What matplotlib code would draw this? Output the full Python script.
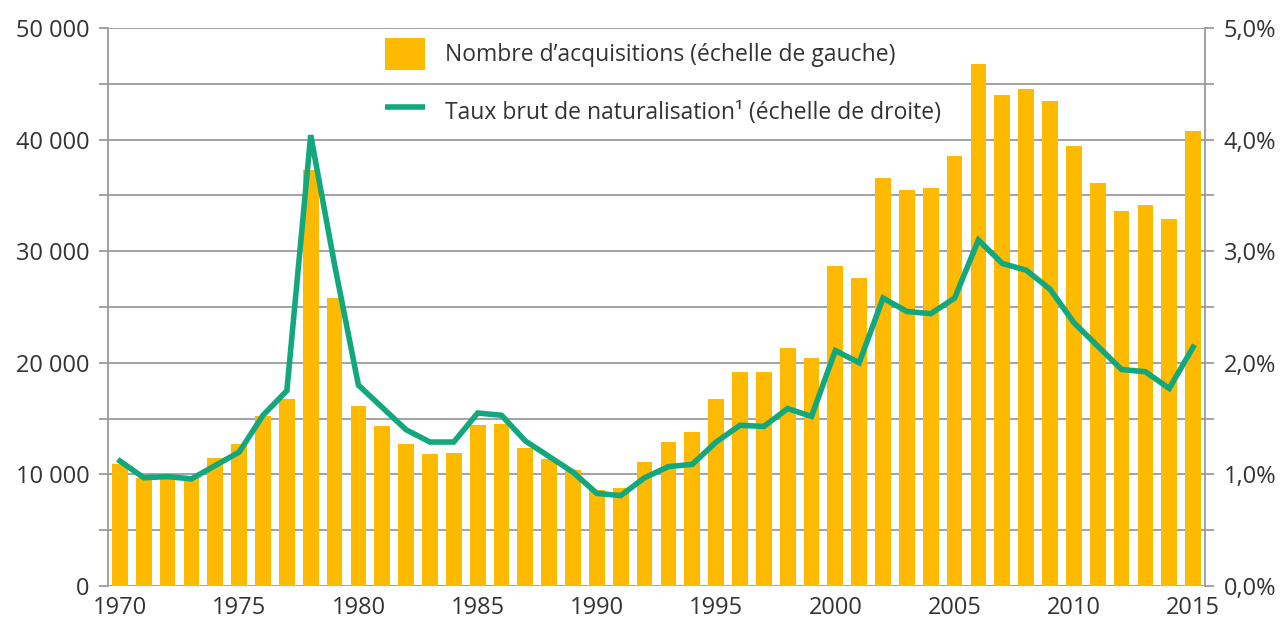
import matplotlib
matplotlib.use("Agg")
import matplotlib.pyplot as plt
from matplotlib.patches import Patch
from matplotlib.lines import Line2D
from matplotlib.ticker import FuncFormatter, MultipleLocator

plt.rcParams['font.family'] = ['Open Sans', 'DejaVu Sans']

years = list(range(1970, 2016))
acquisitions = [10900, 9700, 9800, 9700, 11500, 12700, 15200, 16800, 37300, 25800,
                16100, 14300, 12700, 11800, 11900, 14400, 14500, 12400, 11400, 10400,
                8600, 8800, 11100, 12900, 13800, 16800, 19200, 19200, 21300, 20400,
                28700, 27600, 36600, 35500, 35700, 38500, 46800, 44000, 44500, 43500,
                39400, 36100, 33600, 34100, 32900, 40800]
taux = [1.12, 0.97, 0.98, 0.96, 1.08, 1.20, 1.53, 1.75, 4.04, 2.88,
        1.80, 1.60, 1.40, 1.29, 1.29, 1.55, 1.53, 1.30, 1.16, 1.02,
        0.83, 0.81, 0.97, 1.07, 1.09, 1.29, 1.44, 1.43, 1.59, 1.52,
        2.11, 2.00, 2.58, 2.46, 2.44, 2.58, 3.10, 2.89, 2.83, 2.66,
        2.36, 2.15, 1.94, 1.92, 1.77, 2.14]
xtick_years = list(range(1970, 2016, 5))
label_bars = "Nombre d\u2019acquisitions (échelle de gauche)"
label_line = "Taux brut de naturalisation\u00b9 (échelle de droite)"

BAR = "#FDBA00"
LINE = "#12A77C"
GRID = "#9B9B9B"
TXT = "#333333"

fig = plt.figure(figsize=(12.87, 6.30), dpi=100)
ax = fig.add_axes([108/1287, 44/630, (1205-108)/1287, (586-28)/630])
ax2 = ax.twinx()

ax.bar(years, acquisitions, width=0.66, color=BAR, zorder=2)
ax.set_xlim(1969.5, 2015.5)
ax.set_ylim(0, 50000)
ax.yaxis.set_major_locator(MultipleLocator(10000))
ax.yaxis.set_minor_locator(MultipleLocator(5000))
ax.grid(axis='y', which='both', color=GRID, linewidth=1.3, zorder=0)
ax.set_axisbelow(True)
ax.yaxis.set_major_formatter(FuncFormatter(lambda v, p: f"{int(v):,}".replace(",", " ")))
ax.set_xticks(xtick_years)
ax.set_xticklabels([str(y) for y in xtick_years])

ax2.plot(years, taux, color=LINE, linewidth=4.0, zorder=3, solid_joinstyle='miter')
ax2.set_ylim(0, 5)
ax2.yaxis.set_major_locator(MultipleLocator(1))
ax2.yaxis.set_minor_locator(MultipleLocator(0.5))
ax2.yaxis.set_major_formatter(FuncFormatter(lambda v, p: f"{v:.1f}%".replace(".", ",")))

for a in (ax, ax2):
    for s in a.spines.values():
        s.set_visible(False)
ax.spines['left'].set_visible(True)
ax.spines['left'].set_color(GRID)
ax.spines['left'].set_linewidth(1.3)
ax2.spines['right'].set_visible(True)
ax2.spines['right'].set_color(GRID)
ax2.spines['right'].set_linewidth(1.3)

ax.tick_params(axis='x', length=0, pad=7, labelsize=17, labelcolor=TXT)
ax.tick_params(axis='y', which='both', length=6.5, width=1.3, color=GRID, pad=7,
               labelsize=17, labelcolor=TXT)
ax2.tick_params(axis='y', which='both', length=6.5, width=1.3, color=GRID, pad=7,
                labelsize=17, labelcolor=TXT)

handles = [Patch(facecolor=BAR, edgecolor='none'),
           Line2D([0], [0], color=LINE, linewidth=4.0, solid_capstyle='butt')]
fig.legend(handles, [label_bars, label_line], loc='upper left',
           bbox_to_anchor=(385/1287, 1-38/630), bbox_transform=fig.transFigure,
           frameon=False, fontsize=16.5, labelcolor=TXT, borderpad=0, borderaxespad=0,
           handlelength=1.75, handleheight=1.77, handletextpad=0.87, labelspacing=1.1)

fig.savefig("out.png", dpi=100, facecolor='white')
